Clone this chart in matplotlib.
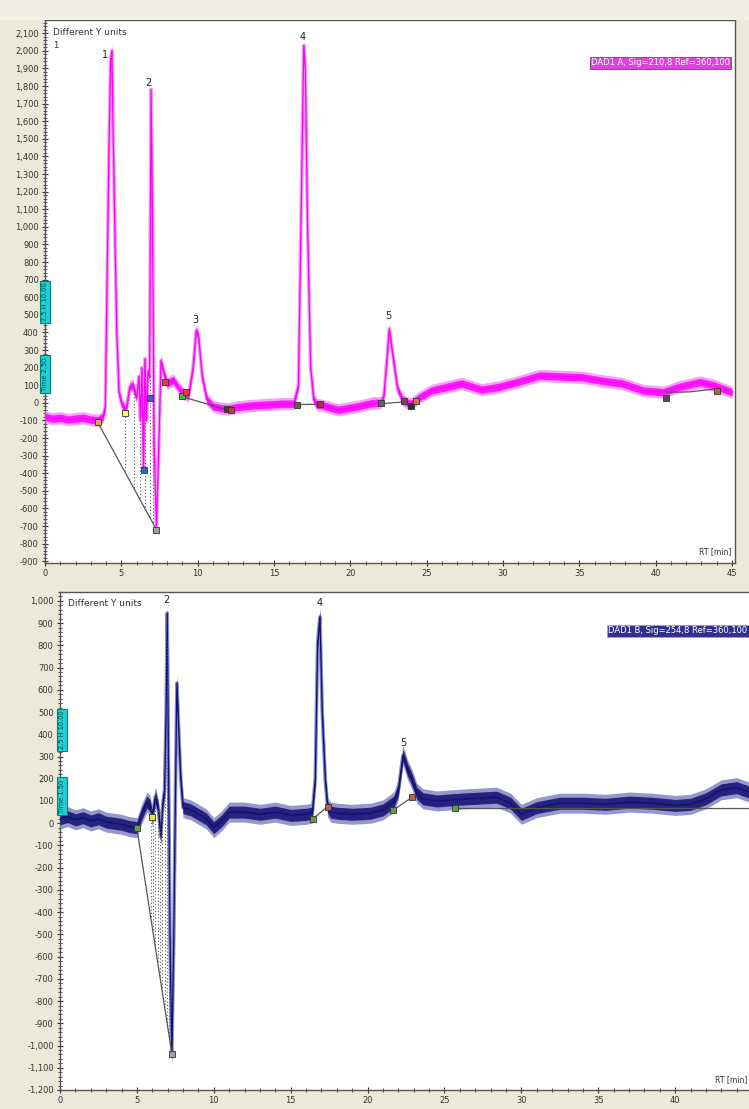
import numpy as np
import matplotlib
matplotlib.use("Agg")
import matplotlib.pyplot as plt
from matplotlib.ticker import MultipleLocator, FuncFormatter

# top trace (magenta), time in min / signal
t_top = [0, 0.5, 1, 1.5, 2, 2.5, 3, 3.45, 3.8, 3.95,
         4.1, 4.2, 4.3, 4.38, 4.45, 4.55, 4.7, 4.85, 5.0, 5.3,
         5.55, 5.75, 6.0, 6.15, 6.25, 6.35, 6.45, 6.55, 6.65, 6.75,
         6.85, 6.95, 7.05, 7.15, 7.3, 7.45, 7.6, 7.75, 8.0, 8.4,
         8.8, 9.1, 9.4, 9.7, 9.9, 10.05, 10.3, 10.6, 11.0, 11.5,
         12.0, 12.5, 13.5, 14.5, 15.5, 16.3, 16.6, 16.8, 16.95, 17.05,
         17.2, 17.4, 17.6, 17.8, 18.2, 19.2, 20.5, 21.5, 22.0, 22.2,
         22.4, 22.55, 22.7, 22.9, 23.1, 23.4, 23.7, 24.0, 24.5, 25.3,
         26.3, 27.3, 28.6, 29.7, 31.0, 32.4, 33.8, 35.2, 36.5, 37.8,
         39.2, 40.5, 41.5, 42.9, 43.8, 45.0]
v_top = [-80, -90, -85, -95, -90, -85, -95, -100, -80, -20,
         900, 1500, 1950, 2000, 1600, 1100, 400, 60, 0, -50,
         90, 100, 30, 150, -100, 200, -380, 250, -100, 180,
         150, 1780, 950, -250, -700, -250, 240, 180, 110, 130,
         80, 50, 40, 200, 410, 380, 150, 20, -20, -30,
         -35, -25, -15, -10, -5, -5, 100, 1200, 2030, 1900,
         1000, 200, 20, -10, -15, -40, -20, 0, 0, 40,
         250, 420, 320, 200, 80, 20, 0, -5, 30, 70,
         90, 110, 75, 90, 120, 155, 150, 145, 125, 110,
         70, 60, 90, 118, 100, 60]
noise_top = 35

# bottom trace (navy)
t_bot = [0, 0.5, 1, 1.5, 2, 2.5, 3, 3.5, 4, 4.5,
         5.0, 5.3, 5.65, 5.85, 6.0, 6.2, 6.4, 6.55, 6.7, 6.8,
         6.9, 6.97, 7.05, 7.15, 7.27, 7.4, 7.5, 7.6, 7.7, 7.85,
         8.0, 8.5, 9.0, 9.5, 10.0, 10.5, 11.0, 12.0, 13.0, 14.0,
         15.0, 16.0, 16.4, 16.6, 16.75, 16.9, 17.05, 17.25, 17.4, 17.6,
         18.0, 19.0, 20.2, 21.0, 21.7, 22.0, 22.3, 22.6, 22.9, 23.2,
         23.6, 24.5, 25.2, 26.5, 28.4, 29.3, 30.0, 31.0, 32.5, 34.0,
         35.5, 37.0, 38.5, 40.0, 41.0, 42.0, 43.0, 44.0, 44.8]
v_bot = [20, 30, 15, 25, 10, 20, 5, 0, -5, -15,
         -20, 40, 95, 80, 30, 120, 60, -60, 100, 150,
         500, 945, 300, -500, -1050, -500, 100, 630, 450, 200,
         70, 60, 40, 20, -20, 10, 50, 50, 40, 50,
         35, 40, 45, 200, 810, 928, 500, 194, 72, 50,
         45, 40, 45, 60, 95, 150, 306, 240, 194, 135,
         110, 100, 104, 110, 117, 90, 40, 70, 90, 90,
         85, 95, 90, 80, 85, 110, 150, 160, 140]
noise_bot = 45

# peak labels
peaks_top = [("1", 3.93, 1975), ("2", 6.8, 1815), ("3", 9.83, 470),
             ("4", 16.85, 2077), ("5", 22.46, 492)]
peaks_bot = [("2", 6.9, 1005), ("4", 16.9, 991), ("5", 22.3, 360)]

# integration baselines
base_top = [[(3.45, -110), (7.3, -720)], [(9.0, 35), (11.9, -40)],
            [(16.5, -10), (18.0, -8)], [(22.0, -5), (23.5, 5), (24.0, -15)],
            [(40.7, 60), (42.2, 62), (44.0, 80)]]
base_bot = [[(5.0, -22), (7.28, -1040)], [(16.45, 20), (17.4, 75)],
            [(21.65, 58), (22.9, 117)], [(25.7, 68), (44.8, 68)]]
drop_top = [5.25, 5.85, 6.25, 6.55, 6.85, 7.1]
drop_bot = [5.9, 6.05, 6.2, 6.35, 6.5, 6.65, 6.8, 6.95, 7.1]

marks_top = [(3.45, -110, "#d0b040"), (5.25, -60, "#ffff40"), (6.5, -380, "#4060c0"),
             (6.85, 30, "#4060c0"), (7.3, -720, "#a0a0a0"), (7.85, 120, "#e04040"),
             (9.0, 40, "#40c040"), (9.25, 60, "#e04040"), (11.9, -35, "#404040"),
             (12.2, -40, "#c04040"), (16.5, -10, "#606060"), (18.0, -8, "#904040"),
             (22.0, 0, "#606060"), (23.5, 10, "#804060"), (24.0, -20, "#303030"),
             (24.3, 10, "#c08040"), (40.7, 25, "#505050"), (44.0, 70, "#c06040")]
marks_bot = [(5.0, -22, "#60a040"), (6.0, 30, "#e0e040"), (7.28, -1040, "#a0a0a0"),
             (16.45, 20, "#60a040"), (17.4, 75, "#c06040"), (21.65, 58, "#60a040"),
             (22.9, 117, "#c06040"), (25.7, 68, "#60a040")]

BEIGE = "#ece9d8"
W, H = 749, 1109

fig = plt.figure(figsize=(W / 100, H / 100), dpi=100, facecolor=BEIGE)
plt.rcParams['font.family'] = ['DejaVu Sans']
fig.patches.append(plt.Rectangle((0, 1 - 20 / H), 1, 20 / H, transform=fig.transFigure,
                                 facecolor="#f1efe4", edgecolor="none", zorder=0))

ax1 = fig.add_axes([45 / W, (H - 563) / H, 690 / W, 543 / H])
ax2 = fig.add_axes([60 / W, (H - 1090) / H, 689 / W, 498 / H])


def style_axis(ax, xlim, ylim):
    ax.set_xlim(*xlim)
    ax.set_ylim(*ylim)
    ax.xaxis.set_major_locator(MultipleLocator(5))
    ax.xaxis.set_minor_locator(MultipleLocator(1))
    ax.yaxis.set_major_locator(MultipleLocator(100))
    ax.yaxis.set_minor_locator(MultipleLocator(20))
    ax.yaxis.set_major_formatter(FuncFormatter(lambda v, p: f"{int(v):,}"))
    ax.tick_params(which="both", direction="inout", labelsize=6, colors="#333333",
                   top=False, right=False, pad=2)
    ax.tick_params(which="major", length=5)
    ax.tick_params(which="minor", length=3)
    for s in ax.spines.values():
        s.set_color("#555555")
        s.set_linewidth(1.0)


def draw_trace(ax, t, v, nz, col, light, base, drops, marks, peaks):
    t = np.array(t)
    v = np.array(v)
    ax.plot(t, v, color=light, lw=2.6, zorder=2)
    ax.fill_between(t, v - nz, v + nz, color=light, alpha=0.9, lw=0, zorder=3)
    ax.fill_between(t, v - nz * 0.6, v + nz * 0.6, color=col, alpha=0.85, lw=0, zorder=3)
    ax.plot(t, v, color=col, lw=0.9, zorder=4)
    for seg in base:
        bx, by = zip(*seg)
        ax.plot(bx, by, color="#555555", lw=0.9, zorder=5)
    bx, by = zip(*base[0])
    for d in drops:
        ax.plot([d, d], [np.interp(d, t, v), np.interp(d, bx, by)],
                color="#555555", lw=0.8, ls=(0, (1, 2)), zorder=5)
    for mx, my, mc in marks:
        ax.plot(mx, my, "s", ms=4, mfc=mc, mec="#333333", mew=0.6, zorder=6)
    for lab, px, py in peaks:
        ax.text(px, py, lab, fontsize=7, ha="center", va="center", color="#222222", zorder=7)


style_axis(ax1, (0, 45.2), (-910, 2175))
draw_trace(ax1, t_top, v_top, noise_top, "#ff00ff", "#f29af2",
           base_top, drop_top, marks_top, peaks_top)
style_axis(ax2, (0, 44.8), (-1200, 1040))
ax2.spines["right"].set_visible(False)
draw_trace(ax2, t_bot, v_bot, noise_bot, "#101070", "#8c8cc8",
           base_bot, drop_bot, marks_bot, peaks_bot)

ax1.text(0.012, 0.985, "Different Y units", transform=ax1.transAxes, fontsize=6.5,
         va="top", ha="left", color="#333333")
ax1.text(0.012, 0.962, "1", transform=ax1.transAxes, fontsize=6,
         va="top", ha="left", color="#333333")
ax2.text(0.012, 0.985, "Different Y units", transform=ax2.transAxes, fontsize=6.5,
         va="top", ha="left", color="#333333")
ax1.text(0.995, 0.012, "RT [min]", transform=ax1.transAxes, fontsize=5.5,
         va="bottom", ha="right", color="#333333")
ax2.text(0.998, 0.012, "RT [min]", transform=ax2.transAxes, fontsize=5.5,
         va="bottom", ha="right", color="#333333")

ax1.text(0.993, 0.921, "DAD1 A, Sig=210,8 Ref=360,100", transform=ax1.transAxes,
         fontsize=6, ha="right", va="center", color="white",
         bbox=dict(boxstyle="square,pad=0.15", fc="#e040e0", ec="#a020a0", lw=0.6))
ax2.text(0.998, 0.922, "DAD1 B, Sig=254,8 Ref=360,100", transform=ax2.transAxes,
         fontsize=6, ha="right", va="center", color="white",
         bbox=dict(boxstyle="square,pad=0.15", fc="#303090", ec="#a0a0d0", lw=0.6))

# cyan range boxes on the y axis
for (cx, cy, txt) in [(45, 302, "2.5 H 10.00"), (45, 374, "Time 2.50"),
                      (62, 730, "2.5 H 10.00"), (62, 796, "Time 1.50")]:
    fig.text(cx / W, 1 - cy / H, txt, rotation=90, fontsize=4.8, ha="center", va="center",
             color="#004848", bbox=dict(boxstyle="square,pad=0.3", fc="#20d0d0", ec="#008080", lw=0.8))

fig.savefig("out.png", dpi=100, facecolor=BEIGE)
